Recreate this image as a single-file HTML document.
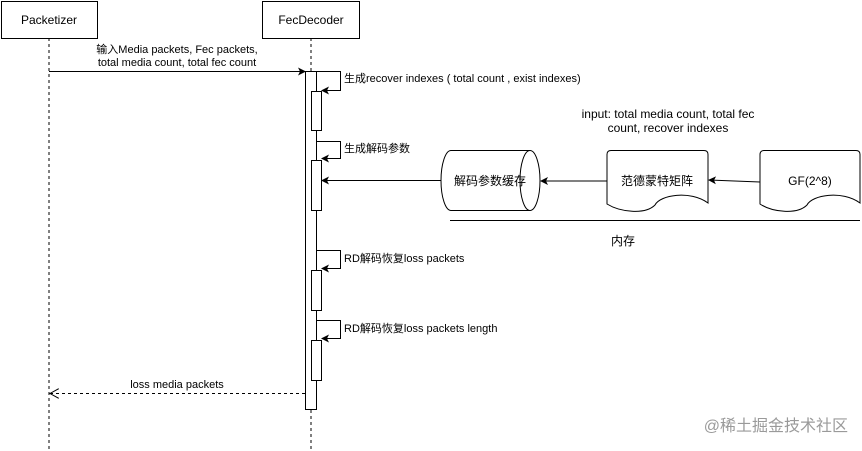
<!DOCTYPE html>
<html><head><meta charset="utf-8"><style>
body{margin:0;background:#fff}
svg{display:block}
text{font-family:"Liberation Sans","Noto Sans CJK SC",sans-serif;fill:#000}
.s{font-size:11px}
.m{font-size:12px}
</style></head><body>
<svg width="862" height="451" viewBox="0 0 862 451" xmlns="http://www.w3.org/2000/svg">
<defs>
<marker id="a" markerWidth="8" markerHeight="8" refX="7" refY="4" orient="auto" markerUnits="userSpaceOnUse"><path d="M0,0 L8,4 L0,8 L2,4 Z" fill="#000"/></marker>
<marker id="o" markerWidth="10" markerHeight="10" refX="9" refY="5" orient="auto" markerUnits="userSpaceOnUse"><path d="M0,0 L9,5 L0,10" fill="none" stroke="#000"/></marker>
</defs>
<g stroke="#000" fill="none">
<line x1="49" y1="38" x2="49" y2="451" stroke-dasharray="3,3"/>
<line x1="311" y1="38" x2="311" y2="451" stroke-dasharray="3,3"/>
<rect x="1.5" y="1.5" width="96" height="37" fill="#fff"/>
<rect x="262.5" y="1.5" width="97" height="37" fill="#fff"/>
<rect x="305.5" y="71.5" width="11" height="338" fill="#fff"/>
<rect x="311.5" y="91.5" width="10" height="39" fill="#fff"/>
<rect x="311.5" y="160.5" width="10" height="50" fill="#fff"/>
<rect x="311.5" y="270.5" width="10" height="40" fill="#fff"/>
<rect x="311.5" y="340.5" width="10" height="40" fill="#fff"/>
<line x1="49" y1="71.5" x2="305" y2="71.5" marker-end="url(#a)"/>
<path d="M316,71.5 H340.5 V90.5 H322" marker-end="url(#a)"/>
<path d="M316,141.5 H340.5 V158.5 H322" marker-end="url(#a)"/>
<path d="M316,250.5 H340.5 V268.5 H322" marker-end="url(#a)"/>
<path d="M316,320.5 H340.5 V338.5 H322" marker-end="url(#a)"/>
<line x1="305" y1="393.5" x2="50" y2="393.5" stroke-dasharray="3,3" marker-end="url(#o)"/>
<line x1="441" y1="180.5" x2="322" y2="180.5" marker-end="url(#a)"/>
<path d="M451,150.5 H530 A10,30 0 0 1 530,210.5 H451 A10,30 0 0 1 451,150.5 Z" fill="#fff"/>
<path d="M530,150.5 A10,30 0 0 0 530,210.5"/>
<line x1="607" y1="181" x2="541" y2="181" marker-end="url(#a)"/>
<path d="M611,150.5 H704 Q708,150.5 708,154.5 V203 C690,190 660,195 655,205 C645,215 620,212 607,204 V154.5 Q607,150.5 611,150.5 Z" fill="#fff"/>
<line x1="760" y1="182" x2="709" y2="180" marker-end="url(#a)"/>
<path d="M764,150.5 H856 Q860,150.5 860,154.5 V203 C842,190 812,195 807,205 C797,215 772,212 760,204 V154.5 Q760,150.5 764,150.5 Z" fill="#fff"/>
<line x1="450" y1="220.5" x2="860" y2="220.5"/>
</g>
<text class="m" x="49" y="24" text-anchor="middle">Packetizer</text>
<text class="m" x="311" y="24" text-anchor="middle">FecDecoder</text>
<text class="s" x="177" y="53" text-anchor="middle">输入Media packets, Fec packets,</text>
<text class="s" x="177" y="66" text-anchor="middle">total media count, total fec count</text>
<text class="s" x="344" y="82">生成recover indexes ( total count , exist indexes)</text>
<text class="s" x="344" y="152">生成解码参数</text>
<text class="s" x="344" y="262">RD解码恢复loss packets</text>
<text class="s" x="344" y="332">RD解码恢复loss packets length</text>
<text class="s" x="177" y="388" text-anchor="middle">loss media packets</text>
<text class="m" x="668" y="118" text-anchor="middle">input: total media count, total fec</text>
<text class="m" x="668" y="132" text-anchor="middle">count, recover indexes</text>
<text class="m" x="490" y="185" text-anchor="middle">解码参数缓存</text>
<text class="m" x="657" y="185" text-anchor="middle">范德蒙特矩阵</text>
<text class="m" x="810" y="185" text-anchor="middle">GF(2^8)</text>
<text class="m" x="623" y="245" text-anchor="middle">内存</text>
<text x="848" y="431" text-anchor="end" style="fill:#9a9a9a;font-size:16px">@稀土掘金技术社区</text>
</svg>
</body></html>
